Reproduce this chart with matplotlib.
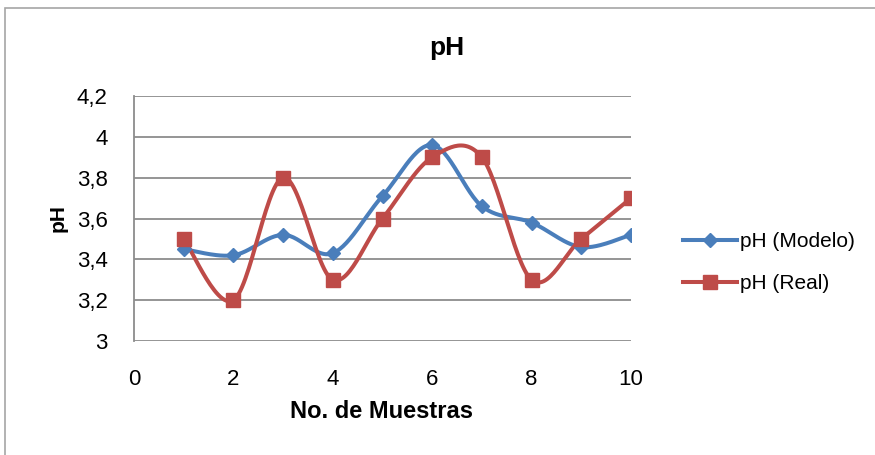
import numpy as np
import matplotlib
matplotlib.use("Agg")
import matplotlib.pyplot as plt
from matplotlib.patches import Rectangle

plt.rcParams['font.family'] = ['Liberation Sans', 'DejaVu Sans']

muestras = [1, 2, 3, 4, 5, 6, 7, 8, 9, 10]
ph_modelo = [3.45, 3.42, 3.52, 3.43, 3.71, 3.96, 3.66, 3.58, 3.46, 3.52]
ph_real = [3.5, 3.2, 3.8, 3.3, 3.6, 3.9, 3.9, 3.3, 3.5, 3.7]
y_ticks = [3, 3.2, 3.4, 3.6, 3.8, 4, 4.2]
x_ticks = [0, 2, 4, 6, 8, 10]


def smooth(x, y, n=30):
    # Catmull-Rom style smoothing (as in spreadsheet smoothed lines)
    x = np.asarray(x, float)
    y = np.asarray(y, float)
    px = np.concatenate([[x[0]], x, [x[-1]]])
    py = np.concatenate([[y[0]], y, [y[-1]]])
    xs, ys = [], []
    t = np.linspace(0, 1, n)
    for i in range(1, len(px) - 2):
        p0 = np.array([px[i], py[i]])
        p3 = np.array([px[i + 1], py[i + 1]])
        c1 = p0 + (np.array([px[i + 1], py[i + 1]]) - np.array([px[i - 1], py[i - 1]])) / 6
        c2 = p3 - (np.array([px[i + 2], py[i + 2]]) - np.array([px[i], py[i]])) / 6
        b = ((1 - t) ** 3)[:, None] * p0 + (3 * (1 - t) ** 2 * t)[:, None] * c1 \
            + (3 * (1 - t) * t ** 2)[:, None] * c2 + (t ** 3)[:, None] * p3
        xs.extend(b[:, 0])
        ys.extend(b[:, 1])
    return np.array(xs), np.array(ys)


W, H = 875, 455
fig = plt.figure(figsize=(W / 100, H / 100), dpi=100)
fig.patches.append(Rectangle((5 / W, -0.1), 1.2, 1 - 8 / H + 0.1,
                             transform=fig.transFigure, fill=False,
                             edgecolor='#a6a6a6', linewidth=1.2))

L, R, T, B = 134, 631, 96, 341
ax = fig.add_axes([L / W, 1 - B / H, (R - L) / W, (B - T) / H])

blue = '#4A7EBB'
red = '#BE4B48'

sx, sy = smooth(muestras, ph_modelo)
ax.plot(sx, sy, color=blue, lw=2.9, solid_capstyle='round', zorder=3)
ax.plot(muestras, ph_modelo, ls='none', marker='D', ms=7.5, color=blue, zorder=4)
rx, ry = smooth(muestras, ph_real)
ax.plot(rx, ry, color=red, lw=2.9, solid_capstyle='round', zorder=3)
ax.plot(muestras, ph_real, ls='none', marker='s', ms=10, color=red, zorder=4)

# legend handles
ax.plot([], [], color=blue, lw=2.9, marker='D', ms=7.5, label='pH (Modelo)')
ax.plot([], [], color=red, lw=2.9, marker='s', ms=10, label='pH (Real)')

ax.set_xlim(0, 10)
ax.set_ylim(3, 4.2)
ax.set_xticks(x_ticks)
ax.set_yticks(y_ticks)
ax.set_yticklabels([f"{v:g}".replace('.', ',') for v in y_ticks])
ax.tick_params(length=0, labelsize=16)
ax.tick_params(axis='x', pad=20)
ax.tick_params(axis='y', pad=19)
ax.grid(axis='y', color='#8c8c8c', lw=1.3)
ax.set_axisbelow(True)
for s in ['top', 'right', 'bottom']:
    ax.spines[s].set_visible(False)
ax.spines['left'].set_color('#8c8c8c')
ax.spines['left'].set_linewidth(1.3)

fig.text(447 / W, 1 - 48 / H, 'pH', fontsize=19, fontweight='bold',
         ha='center', va='center')
ax.set_xlabel('No. de Muestras', fontsize=17, fontweight='bold', va='center')
ax.xaxis.set_label_coords((381 - L) / (R - L), -(412 - B) / (B - T))
ax.set_ylabel('pH', fontsize=15, fontweight='bold', va='center', ha='center')
ax.yaxis.set_label_coords(-(L - 58) / (R - L), (B - 218) / (B - T))

ax.legend(loc='center left', bbox_to_anchor=((683 - L) / (R - L), (B - 262.5) / (B - T)),
          frameon=False, borderpad=0, borderaxespad=0,
          fontsize=15, handlelength=2.6, handletextpad=0.12, labelspacing=1.1)

fig.savefig('out.png', dpi=100)
